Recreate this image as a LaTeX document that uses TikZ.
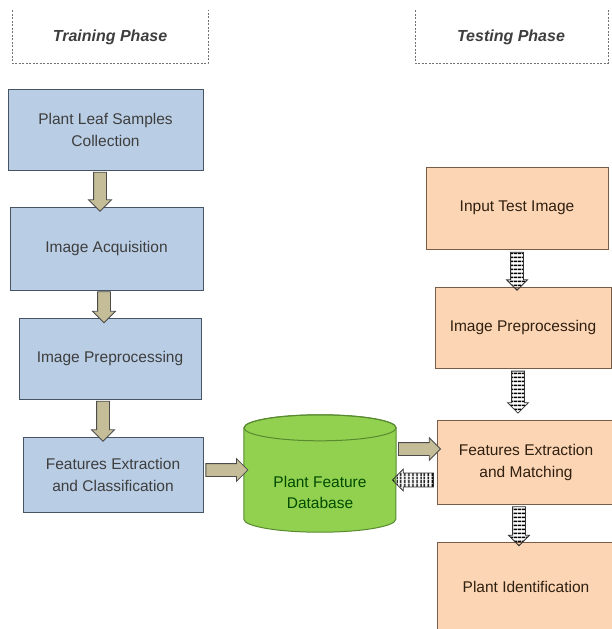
\documentclass[tikz,border=0pt]{standalone}
\usepackage{fontspec}
\setmainfont{Liberation Sans}
\usetikzlibrary{shapes.arrows,patterns.meta}
\definecolor{trainfill}{RGB}{185,205,229}
\definecolor{trainline}{RGB}{70,84,100}
\definecolor{testfill}{RGB}{252,213,181}
\definecolor{testline}{RGB}{120,92,72}
\definecolor{dbfill}{RGB}{146,208,80}
\definecolor{dbline}{RGB}{88,138,48}
\definecolor{khaki}{RGB}{196,189,151}
\definecolor{textgray}{RGB}{62,62,62}

\tikzset{
  phase/.style={text=textgray, font=\fontsize{16}{19}\selectfont\bfseries\itshape},
  trainbox/.style={draw=trainline, fill=trainfill, line width=1pt, align=center,
    text=textgray, font=\fontsize{15.5}{22}\selectfont, inner sep=0pt},
  testbox/.style={draw=testline, fill=testfill, line width=1pt, align=center,
    text=black!75!brown, font=\fontsize{15.5}{22}\selectfont, inner sep=0pt},
  fatarrow/.style={single arrow, draw=black!70, fill=khaki, line width=0.8pt,
    single arrow head extend=5pt, inner xsep=0pt, inner ysep=6pt,
    minimum height=#1, sloped, allow upside down},
  stripearrow/.style={single arrow, draw=black!80, line width=0.8pt,
    pattern={Lines[angle=0, distance=4pt, line width=1.9pt]},
    single arrow head extend=4pt, inner xsep=0pt, inner ysep=6pt,
    minimum height=#1, sloped, allow upside down}
}

\begin{document}
\begin{tikzpicture}[x=1pt, y=-1pt]
  \useasboundingbox (0,0) rectangle (612,629);

  %% phase headers
  \draw[black!55, dash pattern=on 2pt off 1.5pt] (12,10) -- (12,63) -- (208,63) -- (208,10);
  \draw[black!55, dash pattern=on 2pt off 1.5pt] (415,10) -- (415,63) -- (608,63) -- (608,10);
  \node[phase] (trainhead) at (110,37) {Training Phase};
  \node[phase] (testhead) at (511,37) {Testing Phase};

  %% training side
  \node[trainbox, minimum width=195pt, minimum height=81pt] (b1) at (105.5,129.5) {Plant Leaf Samples\\Collection};
  \node[trainbox, minimum width=193pt, minimum height=83pt] (b2) at (106.5,248.5) {Image Acquisition};
  \node[trainbox, minimum width=182pt, minimum height=81pt] (b3) at (110,358.5) {Image Preprocessing};
  \node[trainbox, minimum width=180pt, minimum height=75pt] (b4) at (113,474.5) {Features Extraction\\and Classification};

  %% database
  \node[minimum width=152pt, minimum height=117pt, inner sep=0pt] (db) at (320,473.5) {};
  \draw[dbline, fill=dbfill, line width=1pt]
    ([yshift=-13pt]db.north west) -- ([yshift=13pt]db.south west)
    arc[start angle=180, end angle=360, x radius=76pt, y radius=13pt]
    -- ([yshift=-13pt]db.north east)
    arc[start angle=0, end angle=180, x radius=76pt, y radius=13pt] -- cycle;
  \draw[dbline, line width=1pt] ([yshift=-13pt]db.north) ellipse [x radius=76pt, y radius=13pt];
  \node[align=center, text=black!70!green, font=\fontsize{15.5}{21}\selectfont] (dblabel)
    at ([yshift=-19pt]db.center) {Plant Feature\\Database};

  %% testing side
  \node[testbox, minimum width=182pt, minimum height=82pt] (r1) at (517,208) {Input Test Image};
  \node[testbox, minimum width=176pt, minimum height=81pt] (r2) at (523,327.5) {Image Preprocessing};
  \node[testbox, minimum width=178pt, minimum height=84pt] (r3) at (526,462) {Features Extraction\\and Matching};
  \node[testbox, minimum width=178pt, minimum height=90pt] (r4) at (526,587) {Plant Identification};

  %% training arrows
  \path ([xshift=-5.5pt]b1.south) -- ([xshift=-5.5pt]b1.south |- b2.north) node[midway, fatarrow=39pt] {};
  \path ([xshift=-2.5pt]b2.south) -- ([xshift=-2.5pt]b2.south |- b3.north) node[midway, fatarrow=31pt] {};
  \path ([xshift=-7pt]b3.south) -- ([xshift=-7pt]b3.south |- b4.north) node[midway, fatarrow=40pt] {};
  \path ([yshift=4.5pt]b4.east) -- ([yshift=4.5pt]b4.east -| db.west) node[midway, fatarrow=42pt] {};

  %% database <-> matching
  \path ([yshift=13pt]r3.west -| db.east) -- ([yshift=13pt]r3.west) node[midway, fatarrow=42pt] {};
  \path ([yshift=-18pt]r3.west) -- ([yshift=-18pt]r3.west -| db.east)
    node[midway, stripearrow=41pt, pattern={Lines[angle=90, distance=4pt, line width=1.9pt]}] {};

  %% testing arrows
  \path (r1.south) -- (r1.south |- r2.north) node[midway, stripearrow=38pt] {};
  \path ([xshift=-5pt]r2.south) -- ([xshift=-5pt]r2.south |- r3.north) node[pos=0.4, stripearrow=42pt] {};
  \path ([xshift=-7pt]r3.south) -- ([xshift=-7pt]r3.south |- r4.north) node[midway, stripearrow=39pt] {};
\end{tikzpicture}
\end{document}
